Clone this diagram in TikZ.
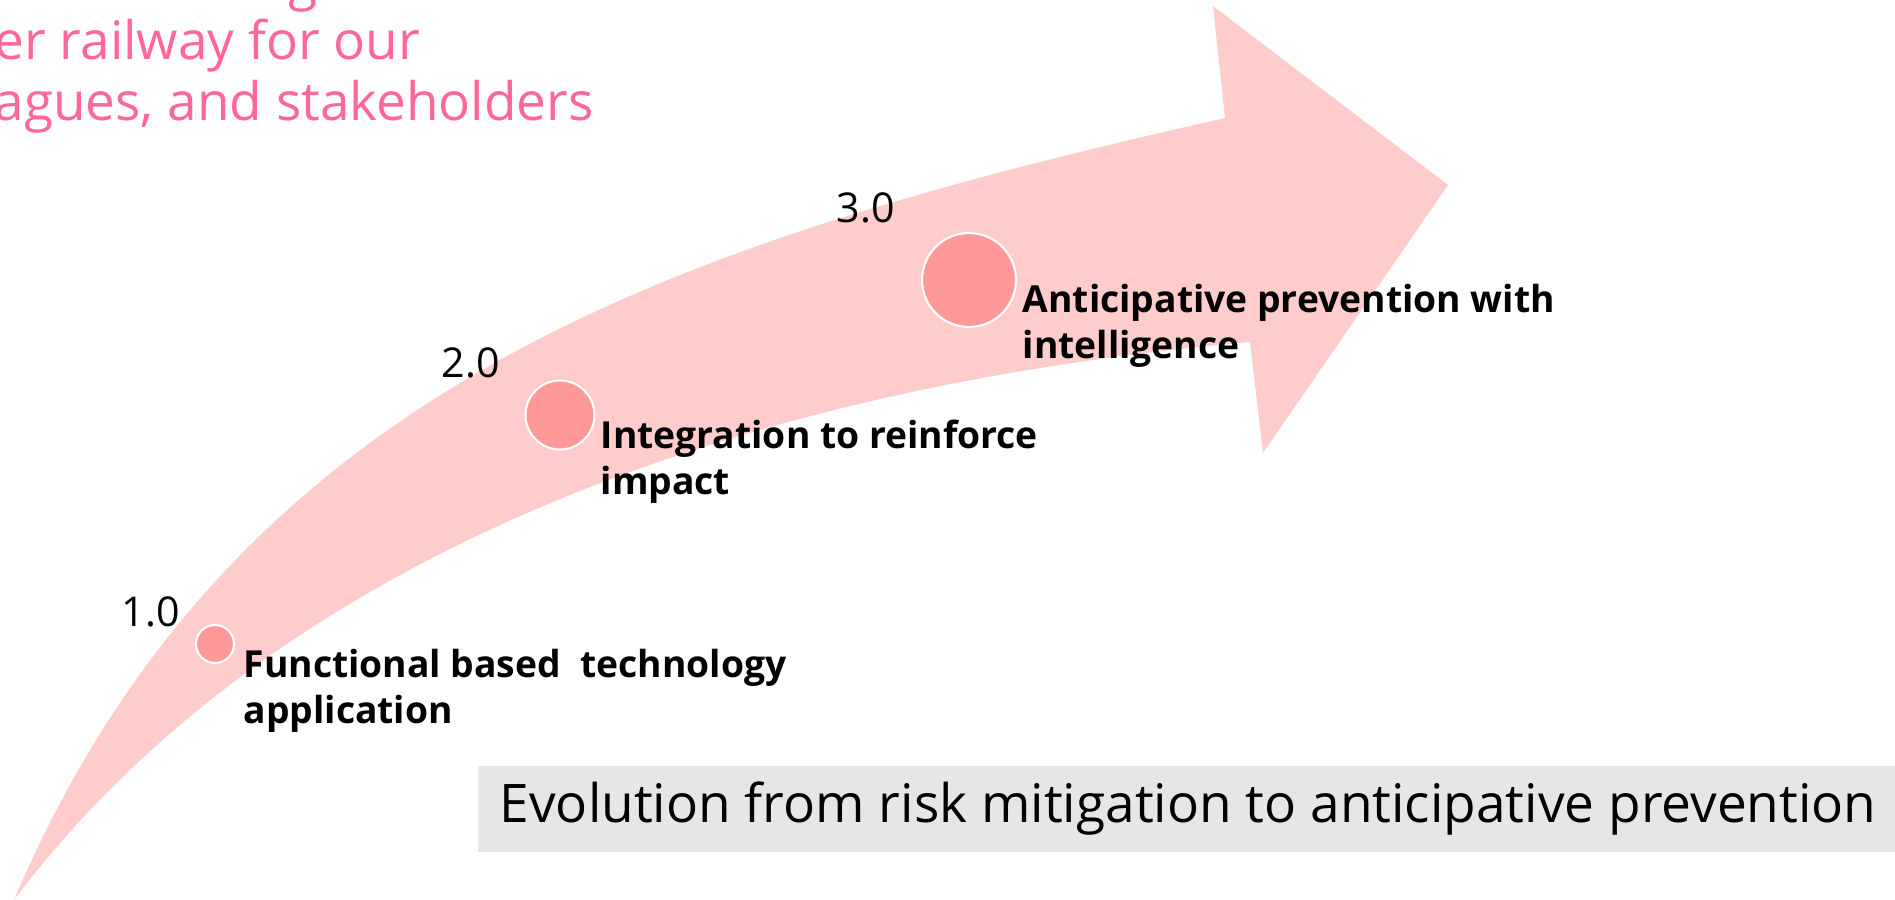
\documentclass[tikz,border=0pt]{standalone}
\usepackage{fontspec}
\setmainfont{Open Sans}
\definecolor{bandpink}{HTML}{FFCCCC}
\definecolor{dotpink}{HTML}{FF9999}
\definecolor{mottopink}{HTML}{FF6699}
\definecolor{boxgray}{HTML}{E6E6E6}
\begin{document}
\begin{tikzpicture}[
    milestone/.style={
        circle,
        draw=white,
        line width=0.6pt,
        fill=dotpink,
        inner sep=0pt
    },
    version/.style={
        anchor=base west,
        inner sep=0pt,
        font=\fontsize{11.7pt}{14pt}\selectfont
    },
    stepnote/.style={
        anchor=base west,
        inner sep=0pt,
        align=left,
        font=\fontsize{10.6pt}{13.1pt}\selectfont\bfseries
    },
    motto/.style={
        anchor=base west,
        inner sep=0pt,
        text=mottopink,
        font=\fontsize{15.1pt}{17.4pt}\selectfont
    },
    caption/.style={
        anchor=west,
        fill=boxgray,
        inner xsep=0.22cm,
        inner ysep=0pt,
        minimum height=0.86cm,
        font=\fontsize{15.13pt}{18pt}\selectfont
    }
]
\useasboundingbox (0,0) rectangle (18.95,9);

% Curved arrow
\fill[bandpink] (0.14,0) .. controls (2.35,5.2) and (6.86,6.6) .. (12.25,7.82)
    -- (12.13,8.94) -- (14.48,7.15) -- (12.63,4.47) -- (12.50,5.58)
    .. controls (6.53,5.05) and (2.4,3.0) .. (0.14,0) -- cycle;

% Cut-off heading
\node[motto] (mottoG) at (2.88,9.0) {g};
\node[motto] (mottoA) at (-0.06,8.40) {er railway for our};
\node[motto] (mottoB) at (-0.06,7.79) {agues, and stakeholders};

% Milestones
\node[milestone, minimum size=0.38cm] (dot1) at (2.15,2.56) {};
\node[milestone, minimum size=0.69cm] (dot2) at (5.60,4.85) {};
\node[milestone, minimum size=0.94cm] (dot3) at (9.69,6.20) {};

\node[version] (ver1) at (1.21,2.73) {1.0};
\node[version] (ver2) at (4.41,5.22) {2.0};
\node[version] (ver3) at (8.36,6.77) {3.0};

% base anchor sits on the last line
\node[stepnote] (step1) at (2.43,1.76) {Functional based\ \ technology\\application};
\node[stepnote] (step2) at (6.00,4.05) {Integration to reinforce\\impact};
\node[stepnote] (step3) at (10.22,5.41) {Anticipative prevention with\\intelligence};

% Caption
\node[caption] (cap) at (4.77,0.91) {Evolution from risk mitigation to anticipative prevention};

\end{tikzpicture}
\end{document}
